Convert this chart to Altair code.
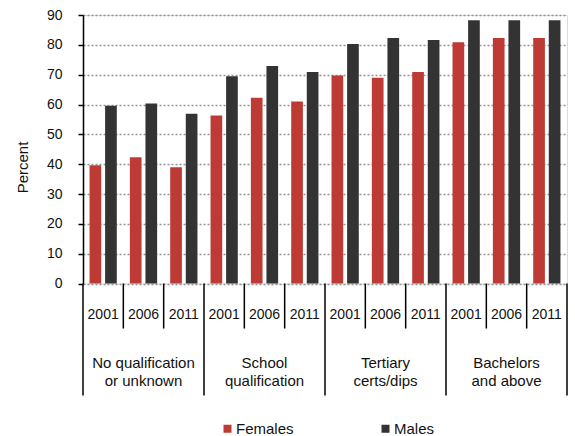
import altair as alt
import pandas as pd

categories = ["No qualification\nor unknown", "School\nqualification", "Tertiary\ncerts/dips", "Bachelors\nand above"]
years = ["2001", "2006", "2011"]
series = ["Females", "Males"]
females = [39.6, 42.3, 39.0, 56.3, 62.3, 61.0, 69.7, 69.0, 70.9, 80.9, 82.3, 82.3]
males = [59.6, 60.3, 56.9, 69.5, 72.9, 70.9, 80.3, 82.3, 81.6, 88.2, 88.2, 88.2]
colors = ["#BE3A35", "#333333"]
y_ticks = list(range(0, 91, 10))

FONT = "Liberation Sans"
W = 484
H = 268.5

keys = [f"{ci}-{y}" for ci in range(len(categories)) for y in years]
rows = []
for i, k in enumerate(keys):
    rows.append({"key": k, "sex": series[0], "value": females[i]})
    rows.append({"key": k, "sex": series[1], "value": males[i]})
bars_df = pd.DataFrame(rows)
years_df = pd.DataFrame({"key": keys, "year": [y for _ in categories for y in years]})
groups_df = pd.DataFrame({"key": [f"{ci}-{years[1]}" for ci in range(len(categories))], "label": categories})
minor_df = pd.DataFrame({"key": [k for k in keys if not k.endswith(years[0])]})
major_df = pd.DataFrame({"key": [k for k in keys if k.endswith(years[0])]})
end_df = pd.DataFrame({"key": [keys[-1]]})

xscale = alt.Scale(domain=keys, paddingInner=0, paddingOuter=0)

bars = alt.Chart(bars_df).mark_bar().encode(
    x=alt.X("key:N", scale=xscale,
            axis=alt.Axis(labels=False, ticks=False, title=None, grid=False,
                          domainColor="black", domainWidth=1.5)),
    xOffset=alt.XOffset("sex:N", scale=alt.Scale(domain=series, paddingInner=0.25, paddingOuter=0.42)),
    y=alt.Y("value:Q", scale=alt.Scale(domain=[0, 90], nice=False),
            axis=alt.Axis(values=y_ticks, grid=True, gridDash=[2, 2], gridColor="#949494", gridWidth=1.5,
                          domainColor="black", domainWidth=1.5, tickColor="black", tickSize=5,
                          tickWidth=1.5, labelPadding=16, labelFontSize=14, labelFont=FONT,
                          labelColor="#111", title="Percent", titleFontSize=15,
                          titleFontWeight="normal", titleFont=FONT, titleColor="#111",
                          titleX=-60.5, titleY=152, titleAngle=-90, titleAlign="center",
                          titleBaseline="middle")),
    color=alt.Color("sex:N", scale=alt.Scale(domain=series, range=colors),
                    legend=alt.Legend(title=None, orient="none", legendX=137, legendY=406,
                                      direction="horizontal", symbolType="square", symbolSize=64,
                                      symbolStrokeWidth=0, labelFontSize=15, labelFont=FONT,
                                      labelColor="#111", labelOffset=1, columnPadding=84)),
)

minor = alt.Chart(minor_df).mark_rule(color="black", strokeWidth=1.5).encode(
    x=alt.X("key:N", scale=xscale, axis=None, bandPosition=0),
    y=alt.value(H), y2=alt.value(H + 45),
)
major = alt.Chart(major_df).mark_rule(color="black", strokeWidth=1.5).encode(
    x=alt.X("key:N", scale=xscale, axis=None, bandPosition=0),
    y=alt.value(H), y2=alt.value(H + 112),
)
end = alt.Chart(end_df).mark_rule(color="black", strokeWidth=1.5).encode(
    x=alt.X("key:N", scale=xscale, axis=None, bandPosition=1),
    y=alt.value(H), y2=alt.value(H + 112),
)
year_text = alt.Chart(years_df).mark_text(fontSize=14, font=FONT, color="#111", baseline="middle").encode(
    x=alt.X("key:N", scale=xscale, axis=None),
    y=alt.value(H + 31),
    text="year:N",
)
group_text = alt.Chart(groups_df).mark_text(fontSize=15, font=FONT, color="#111", baseline="middle",
                                            lineBreak="\n", lineHeight=18).encode(
    x=alt.X("key:N", scale=xscale, axis=None),
    y=alt.value(H + 79),
    text="label:N",
)

chart = alt.layer(bars, minor, major, end, year_text, group_text).properties(
    width=W, height=H,
    autosize=alt.AutoSizeParams(type="none"),
    padding={"left": 83, "top": 15, "right": 8, "bottom": 152},
).configure_view(stroke=None).configure(background="white")

chart.save("out.html", embed_options={"renderer": "svg", "actions": False})
